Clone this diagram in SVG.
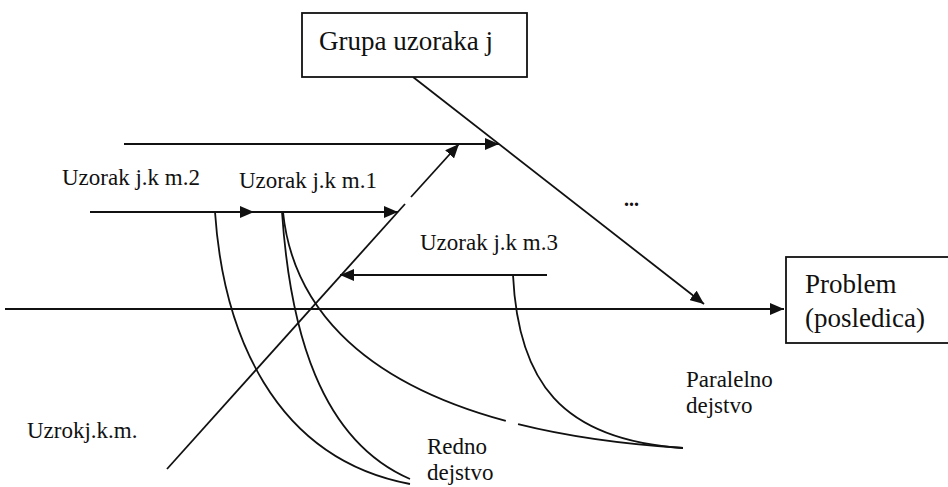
<svg xmlns="http://www.w3.org/2000/svg" width="948" height="487" viewBox="0 0 948 487">
  <style>
    .ln { stroke: #111; stroke-width: 1.8; fill: none; }
    .box { stroke: #111; stroke-width: 1.8; fill: #fff; }
    text { font-family: 'Liberation Serif', 'DejaVu Serif', 'Times New Roman', serif; fill: #111; }
    .lbl { font-size: 23px; }
    .big { font-size: 27px; }
  </style>
  <defs>
    <marker id="arr" viewBox="0 0 14 12" refX="14" refY="6" markerWidth="14" markerHeight="12" markerUnits="userSpaceOnUse" orient="auto">
      <path d="M0,0 L14,6 L0,12 Z" fill="#111"/>
    </marker>
  </defs>
  <rect width="948" height="487" fill="#fff"/>

  <g id="connectors">
    <!-- main spine -->
    <line class="ln" x1="5" y1="309" x2="784" y2="309" marker-end="url(#arr)"/>
    <!-- group bone from the top box -->
    <line class="ln" x1="413" y1="77" x2="704" y2="304" marker-end="url(#arr)"/>
    <!-- cause bone -->
    <line class="ln" x1="167" y1="469" x2="405" y2="204"/>
    <line class="ln" x1="411" y1="197" x2="459" y2="144" marker-end="url(#arr)"/>
    <!-- top branch -->
    <line class="ln" x1="124" y1="144" x2="499" y2="144" marker-end="url(#arr)"/>
    <!-- pattern m.2 / m.1 -->
    <line class="ln" x1="90" y1="212" x2="254" y2="212" marker-end="url(#arr)"/>
    <line class="ln" x1="254" y1="212" x2="398" y2="212" marker-end="url(#arr)"/>
    <!-- pattern m.3 -->
    <line class="ln" x1="547" y1="275" x2="340" y2="275" marker-end="url(#arr)"/>
    <!-- serial action curves -->
    <path class="ln" d="M215,212 C223,330 272,458 410,484"/>
    <path class="ln" d="M282,212 C290,330 320,440 410,479"/>
    <!-- parallel action curves -->
    <path class="ln" d="M283,212 C292.06,300.85 354.14,379.86 505.8,420.93"/>
    <path class="ln" d="M518.05,424.12 C564.67,435.75 619.33,443.95 683,448"/>
    <path class="ln" d="M513,275 C518,380 560,440 683,448"/>
  </g>

  <g id="node-group">
    <rect class="box" x="302" y="13" width="225" height="64"/>
    <text class="big" x="319" y="50" font-family="Liberation Serif, serif">Grupa uzoraka j</text>
  </g>

  <g id="node-problem">
    <rect class="box" x="786" y="257" width="170" height="86"/>
    <text class="big" x="805" y="293" font-family="Liberation Serif, serif">Problem</text>
    <text class="big" x="805" y="327" font-family="Liberation Serif, serif">(posledica)</text>
  </g>

  <g id="label-m2"><text class="lbl" x="62" y="185" font-family="Liberation Serif, serif">Uzorak j.k m.2</text></g>
  <g id="label-m1"><text class="lbl" x="239" y="188" font-family="Liberation Serif, serif">Uzorak j.k m.1</text></g>
  <g id="label-m3"><text class="lbl" x="420" y="250" font-family="Liberation Serif, serif">Uzorak j.k m.3</text></g>
  <g id="label-cause"><text class="lbl" x="27" y="438" font-family="Liberation Serif, serif">Uzrokj.k.m.</text></g>
  <g id="label-serial">
    <text class="lbl" x="427" y="454" font-family="Liberation Serif, serif">Redno</text>
    <text class="lbl" x="427" y="480" font-family="Liberation Serif, serif">dejstvo</text>
  </g>
  <g id="label-parallel">
    <text class="lbl" x="686" y="387" font-family="Liberation Serif, serif">Paralelno</text>
    <text class="lbl" x="686" y="413" font-family="Liberation Serif, serif">dejstvo</text>
  </g>
  <g id="ellipsis"><text x="624" y="206" font-size="20" font-weight="bold" font-family="Liberation Serif, serif">...</text></g>
</svg>
